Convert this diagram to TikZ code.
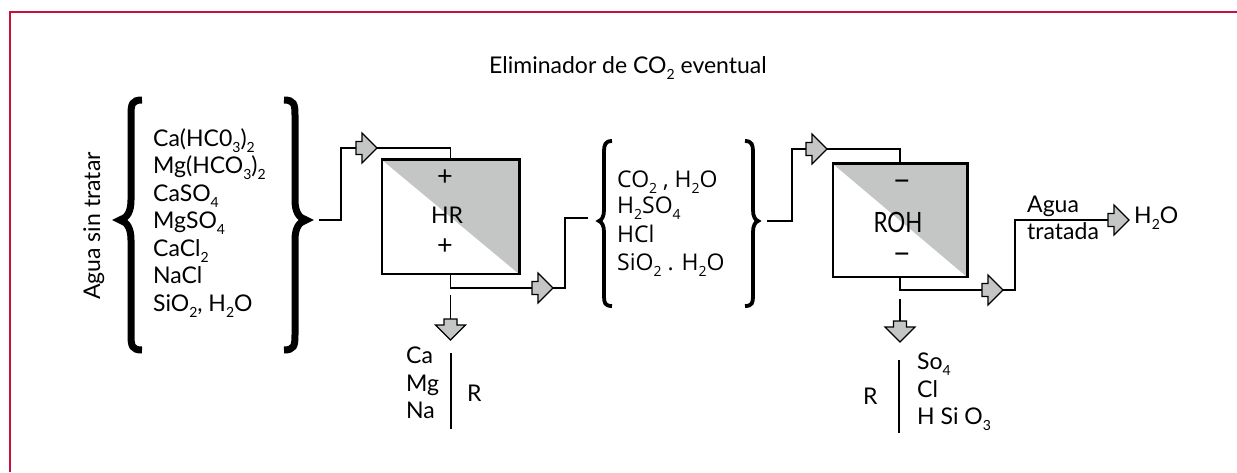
\documentclass[tikz,border=0pt]{standalone}
\usepackage{fontspec}
\setmainfont{Lato}
\newfontfamily\midfont{Open Sans}
\usetikzlibrary{calc}
\definecolor{framered}{RGB}{200,16,58}
\definecolor{resin}{RGB}{196,198,197}
\newcommand\sbx[1]{\raisebox{-0.3em}{\fontsize{14}{14}\selectfont #1}}
\tikzset{
  lbl/.style={inner sep=0pt, anchor=base west, font=\fontsize{23}{26}\selectfont},
  midlbl/.style={inner sep=0pt, anchor=base west, font=\midfont\fontsize{23}{26}\selectfont},
  resinbox/.style={draw, line width=1.3pt, inner sep=0pt,
    path picture={\fill[resin] (path picture bounding box.north west) -- (path picture bounding box.north east) -- (path picture bounding box.south east) -- cycle;}},
  wire/.style={line width=1.4pt},
  bigbrace/.style={line width=7pt},
  smallbrace/.style={line width=3.8pt},
  signlbl/.style={inner sep=0pt, font=\fontsize{27}{27}\selectfont},
  pics/blkarrow/.style={code={
    \filldraw[fill=resin, draw=black, line width=1.1pt, line join=miter]
      (0,0) -- (-15,-15) -- (-15,-6.5) -- (-21,-6.5) -- (-21,6.5) -- (-15,6.5) -- (-15,15) -- cycle;
  }},
}
\begin{document}
\begin{tikzpicture}[x=1pt,y=-1pt]
\useasboundingbox (0,0) rectangle (1237,472);
% frame
\draw[framered, line width=2.5pt] (10,472) -- (10,12) -- (1237,12);

% title
\node[lbl, anchor=base] (title) at (628,73) {Eliminador de CO\sbx2 eventual};

% left group
\node[lbl, anchor=base, rotate=90] (agua) at (100,226) {Agua sin tratar};
\draw[bigbrace] (142,100) .. controls (132,100) and (131,104) .. (131,115) -- (131,200)
  .. controls (131,212) and (127,218) .. (120,220) .. controls (127,222) and (131,228) .. (131,240)
  -- (131,335) .. controls (131,346) and (132,350) .. (142,350);
\draw[bigbrace] (284,100) .. controls (294,100) and (295,104) .. (295,115) -- (295,200)
  .. controls (295,212) and (299,218) .. (306,220) .. controls (299,222) and (295,228) .. (295,240)
  -- (295,335) .. controls (295,346) and (294,350) .. (284,350);
\node[lbl] (l1) at (153,146) {Ca(HC0\sbx3)\sbx2};
\node[lbl] (l2) at (153,173) {Mg(HCO\sbx3)\sbx2};
\node[lbl] (l3) at (153,201) {CaSO\sbx4};
\node[lbl] (l4) at (153,228) {MgSO\sbx4};
\node[lbl] (l5) at (153,256) {CaCl\sbx2};
\node[lbl] (l6) at (153,283) {NaCl};
\node[lbl] (l7) at (153,311) {SiO\sbx2, H\sbx2O};

% HR exchanger
\node[resinbox, minimum width=137pt, minimum height=114pt] (hr) at (450.5,217) {};
\draw[line width=2.6pt] (hr.north west) -- (hr.north east) -- (hr.south east);
\node[signlbl] (hrp1) at (445,178) {+};
\node[lbl, anchor=base] (hrlbl) at (447,223.5) {HR};
\node[signlbl] (hrp2) at (445,247) {+};

% cation output
\node[lbl] (ca) at (406,363) {Ca};
\node[lbl] (mg) at (406,391) {Mg};
\node[lbl] (na) at (406,418) {Na};
\draw[wire] (451,353) -- (451,429);
\node[lbl] (r1) at (467,401) {R};

% middle group
\draw[smallbrace] (612,141) .. controls (605,141) and (604,145) .. (604,152) -- (604,210)
  .. controls (604,216) and (602,220) .. (599,221) .. controls (602,222) and (604,226) .. (604,232)
  -- (604,296) .. controls (604,303) and (605,306) .. (612,306);
\draw[smallbrace] (745,141) .. controls (752,141) and (753,145) .. (753,152) -- (753,210)
  .. controls (753,216) and (755,220) .. (758,221) .. controls (755,222) and (753,226) .. (753,232)
  -- (753,296) .. controls (753,303) and (752,306) .. (745,306);
\node[midlbl] (m1) at (617,187) {CO\sbx2 , H\sbx2O};
\node[midlbl] (m2) at (617,213) {H\sbx2SO\sbx4};
\node[midlbl] (m3) at (617,242) {HCl};
\node[midlbl] (m4) at (617,270) {SiO\sbx2 . H\sbx2O};

% ROH exchanger
\node[resinbox, minimum width=134pt, minimum height=113pt] (roh) at (900,220.5) {};
\draw[line width=2.6pt] (roh.north west) -- (roh.north east) -- (roh.south east);
\node[signlbl, font=\fontsize{32}{32}\selectfont] (rohm1) at (902,185) {–};
\node[inner sep=0pt, anchor=base] (rohlbl) at (898,232) {\fontsize{28}{28}\selectfont\scalebox{0.8}[1]{ROH}};
\node[signlbl, font=\fontsize{32}{32}\selectfont] (rohm2) at (902,258) {–};

% anion output
\node[lbl] (r2) at (863,404) {R};
\draw[wire] (899,360) -- (899,433);
\node[lbl] (so4) at (917,369) {So\sbx4};
\node[lbl] (cl) at (917,397) {Cl};
\node[lbl] (hsio) at (917,424) {H Si O\sbx3};

% treated water
\node[lbl] (ag) at (1027,212) {Agua};
\node[lbl] (tr) at (1027,239) {tratada};
\node[lbl] (h2o) at (1134,223) {H\sbx2O};

% connector points
\coordinate (b1out) at (319,220);
\coordinate (a1) at (377,148);
\coordinate (a2) at (553,288);
\coordinate (min) at (588,218);
\coordinate (d1) at (450.5,295);
\coordinate (a3) at (450.5,340);
\coordinate (mout) at (767,221);
\coordinate (a4) at (827,149);
\coordinate (a5) at (1003,290);
\coordinate (a6) at (1129,220);
\coordinate (d2) at (900,299);
\coordinate (a7) at (900,342);

% connectors
\draw[wire] (b1out) -- ++(22,0) |- (a1);
\draw[wire] (a1) -| (hr.north);
\draw[wire] (hr.south) |- (a2);
\draw[wire] (a2) -- ++(12,0) |- (min);
\draw[wire] (d1) -- (a3);
\draw[wire] (mout) -- ++(25,0) |- (a4);
\draw[wire] (a4) -| (roh.north);
\draw[wire] (roh.south) |- (a5);
\draw[wire] (a5) -- ++(12,0) |- (a6);
\draw[wire] (d2) -- (a7);

% block arrows
\pic at (a1) {blkarrow};
\pic at (a2) {blkarrow};
\pic[rotate=-90] at (a3) {blkarrow};
\pic at (a4) {blkarrow};
\pic at (a5) {blkarrow};
\pic at (a6) {blkarrow};
\pic[rotate=-90] at (a7) {blkarrow};
\end{tikzpicture}
\end{document}
